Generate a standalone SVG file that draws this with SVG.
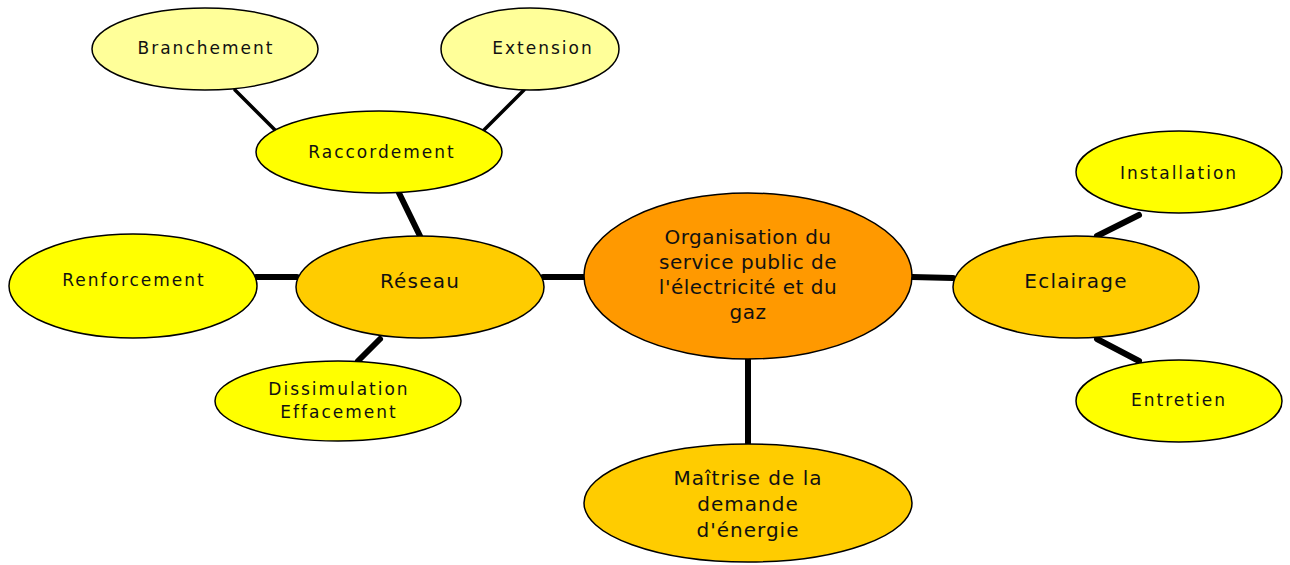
<svg xmlns="http://www.w3.org/2000/svg" width="1290" height="565" viewBox="0 0 1290 565">
<style>
  ellipse { stroke: #000; stroke-width: 1.5; }
  .c0 { fill: #FF9900; }
  .c1 { fill: #FFCC00; }
  .c2 { fill: #FFFF00; }
  .c3 { fill: #FFFF99; }
  text { font-family: "DejaVu Sans", Verdana, sans-serif; fill: #111; text-anchor: middle; }
  .s { font-size: 17px; letter-spacing: 2px; }
  .m { font-size: 20px; letter-spacing: 1.2px; }
  .l { font-size: 20px; letter-spacing: 0.5px; }
  .l2 { font-size: 20px; letter-spacing: 1px; }
  .cn line { stroke: #000; stroke-linecap: round; }
  .thin { stroke-width: 3.5; }
  .thick { stroke-width: 6; }
</style>
<g class="cn" id="connectors">
  <line class="thin" x1="235" y1="90" x2="277" y2="132"/>
  <line class="thin" x1="524" y1="90" x2="482" y2="132"/>
  <line class="thick" x1="399" y1="193" x2="420" y2="236"/>
  <line class="thick" x1="256" y1="277" x2="297" y2="277"/>
  <line class="thick" x1="380" y1="339" x2="358" y2="361"/>
  <line class="thick" x1="543" y1="277" x2="585" y2="277"/>
  <line class="thick" x1="912" y1="277" x2="953" y2="278"/>
  <line class="thick" x1="748" y1="359" x2="748" y2="443"/>
  <line class="thick" x1="1097" y1="236" x2="1139" y2="215"/>
  <line class="thick" x1="1097" y1="339" x2="1139" y2="361"/>
</g>
<g id="center">
  <ellipse class="c0" cx="748" cy="276" rx="164" ry="83"/>
  <text class="l" x="748" y="244">Organisation du</text>
  <text class="l" x="748" y="269">service public de</text>
  <text class="l" x="748" y="294">l'électricité et du</text>
  <text class="l" x="748" y="319">gaz</text>
</g>
<g id="reseau">
  <ellipse class="c1" cx="420" cy="287" rx="124" ry="51"/>
  <text class="m" x="420" y="288">Réseau</text>
</g>
<g id="renforcement">
  <ellipse class="c2" cx="133" cy="286" rx="124" ry="52"/>
  <text class="s" x="134" y="286">Renforcement</text>
</g>
<g id="dissimulation">
  <ellipse class="c2" cx="338" cy="401" rx="123" ry="40"/>
  <text class="s" x="339" y="395">Dissimulation</text>
  <text class="s" x="339" y="418">Effacement</text>
</g>
<g id="raccordement">
  <ellipse class="c2" cx="379" cy="152" rx="123" ry="41"/>
  <text class="s" x="382" y="158">Raccordement</text>
</g>
<g id="branchement">
  <ellipse class="c3" cx="205" cy="49" rx="113" ry="41"/>
  <text class="s" x="206" y="54">Branchement</text>
</g>
<g id="extension">
  <ellipse class="c3" cx="530" cy="49" rx="89" ry="41"/>
  <text class="s" x="543" y="54">Extension</text>
</g>
<g id="eclairage">
  <ellipse class="c1" cx="1076" cy="287" rx="123" ry="51"/>
  <text class="m" x="1076" y="288">Eclairage</text>
</g>
<g id="installation">
  <ellipse class="c2" cx="1179" cy="172" rx="103" ry="41"/>
  <text class="s" x="1179" y="179">Installation</text>
</g>
<g id="entretien">
  <ellipse class="c2" cx="1179" cy="401" rx="103" ry="41"/>
  <text class="s" x="1179" y="406">Entretien</text>
</g>
<g id="maitrise">
  <ellipse class="c1" cx="748" cy="503" rx="164" ry="59"/>
  <text class="l2" x="748" y="485">Maîtrise de la</text>
  <text class="l2" x="748" y="511">demande</text>
  <text class="l2" x="748" y="537">d'énergie</text>
</g>
</svg>
